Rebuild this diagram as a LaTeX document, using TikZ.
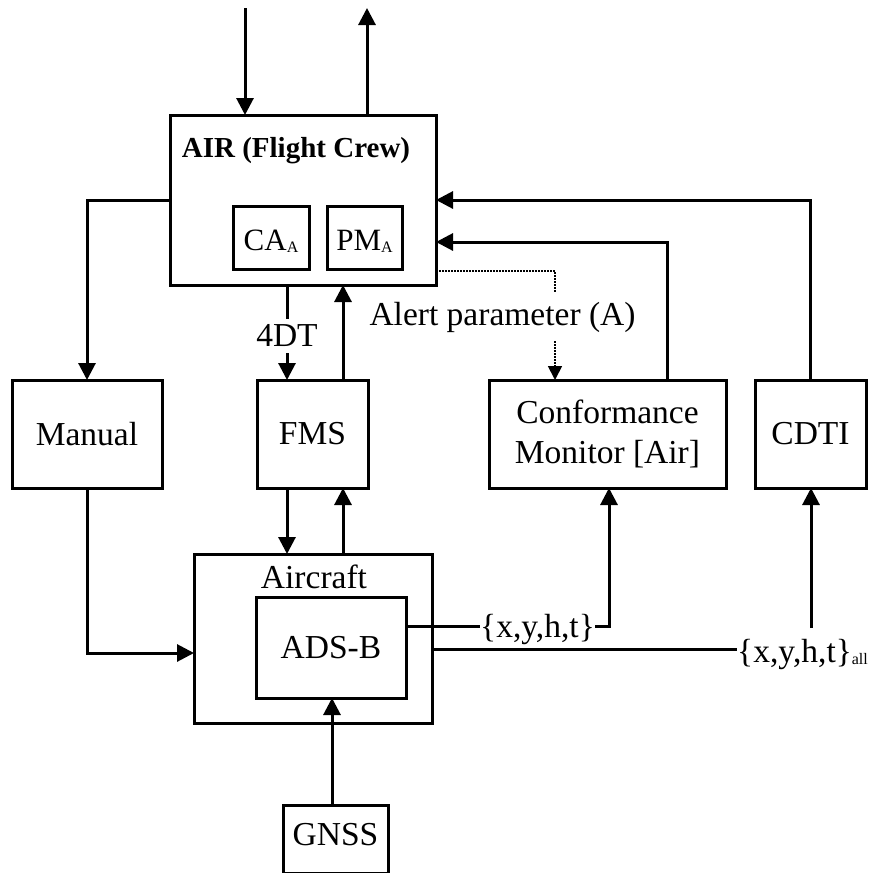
\documentclass[tikz,border=0pt]{standalone}
\usepackage{fontspec}
\setmainfont{Liberation Serif}
\usetikzlibrary{arrows.meta}
\newcommand\mysubs[1]{\raisebox{-2.5pt}{\fontsize{16}{16}\selectfont #1}}
\begin{document}
\begin{tikzpicture}[x=1pt,y=-1pt,
  box/.style={draw,line width=3pt,rectangle,inner sep=0pt,outer sep=0pt},
  ln/.style={line width=3pt},
  arr/.style={line width=3pt,-{Triangle[length=17pt,width=17pt]}},
  dotarr/.style={line width=1.8pt,dash pattern=on 1.8pt off 1.2pt,-{Triangle[length=14pt,width=14pt]}},
  big/.style={font=\fontsize{33.5}{40}\selectfont},
  mid/.style={font=\fontsize{31}{36}\selectfont},
  boldlbl/.style={font=\fontsize{29}{34}\selectfont\bfseries}
]
\useasboundingbox (0,0) rectangle (884,873);

% nodes
\node[box,minimum width=266pt,minimum height=170pt] (air) at (303,200) {};
\node[boldlbl,anchor=base,inner sep=0pt] (airlbl) at (296,157) {AIR (Flight Crew)};
\node[box,mid,text height=28pt,minimum width=76pt,minimum height=63pt] (ca) at (271,237.5) {CA\mysubs{A}};
\node[box,mid,text height=28pt,minimum width=75pt,minimum height=63pt] (pm) at (364.5,237.5) {PM\mysubs{A}};
\node[box,big,minimum width=150pt,minimum height=108pt] (manual) at (87,434) {Manual};
\node[box,big,minimum width=111pt,minimum height=108pt] (fms) at (312.5,434) {FMS};
\node[box,big,align=center,minimum width=237pt,minimum height=108pt] (cm) at (607.5,434) {Conformance\\Monitor [Air]};
\node[box,big,minimum width=111pt,minimum height=108pt] (cdti) at (810.5,434) {CDTI};
\node[box,minimum width=238pt,minimum height=169pt] (aircraft) at (313,638.5) {};
\node[big,anchor=base,inner sep=0pt] (aclbl) at (314,588) {Aircraft};
\node[box,big,minimum width=150pt,minimum height=101pt] (adsb) at (331,647.5) {ADS-B};
\node[box,big,text depth=10pt,minimum width=105pt,minimum height=68pt] (gnss) at (335.5,839) {GNSS};

% top in/out
\coordinate (topin) at (245,8);
\coordinate (topout) at (367,8);
\draw[arr] (topin) -- (topin |- air.north);
\draw[arr] (topout |- air.north) -- (topout);

% AIR -> Manual
\draw[arr] (air.west) -| (manual.north);

% AIR <-> FMS
\coordinate (xdn) at (287,0);
\coordinate (xup) at (343,0);
\draw[arr] (air.south -| xdn) -- (fms.north -| xdn);
\node[big,fill=white,inner xsep=2pt,inner ysep=6pt] (l4dt) at (287,336) {4DT};
\draw[arr] (fms.north -| xup) -- (air.south -| xup);

% FMS <-> Aircraft
\draw[arr] (fms.south -| xdn) -- (aircraft.north -| xdn);
\draw[arr] (aircraft.north -| xup) -- (fms.south -| xup);

% AIR -> CM (alert parameter, dotted)
\draw[dotarr] (air.east |- 0,271) -| (cm.north -| 555,0);
\node[big,fill=white,inner xsep=4pt,inner ysep=9pt] (alert) at (502.5,317) {Alert parameter (A)};

% CM -> AIR, CDTI -> AIR
\draw[arr] (cm.north -| 667,0) |- (air.east |- 0,242);
\draw[arr] (cdti.north) |- (air.east |- 0,200);

% Manual -> Aircraft
\draw[arr] (manual.south) |- (aircraft.west |- 0,653);

% GNSS -> ADS-B
\draw[arr] (gnss.north -| 332,0) -- (adsb.south -| 332,0);

% ADS-B -> CM
\node[big,anchor=base,inner sep=0pt] (xyht) at (537.5,637) {\{x,y,h,t\}};
\draw[ln] (adsb.east |- 0,626) -- (xyht.west |- 0,626);
\draw[arr] (xyht.east |- 0,626) -| (cm.south -| 609,0);

% Aircraft -> CDTI
\node[big,anchor=base west,inner sep=0pt] (xyhtall) at (737,662) {\{x,y,h,t\}\mysubs{all}};
\draw[ln] (aircraft.east |- 0,649) -- (xyhtall.west |- 0,649);
\coordinate (cdtiin) at (811,628);
\draw[arr] (cdtiin) -- (cdtiin |- cdti.south);
\end{tikzpicture}
\end{document}
